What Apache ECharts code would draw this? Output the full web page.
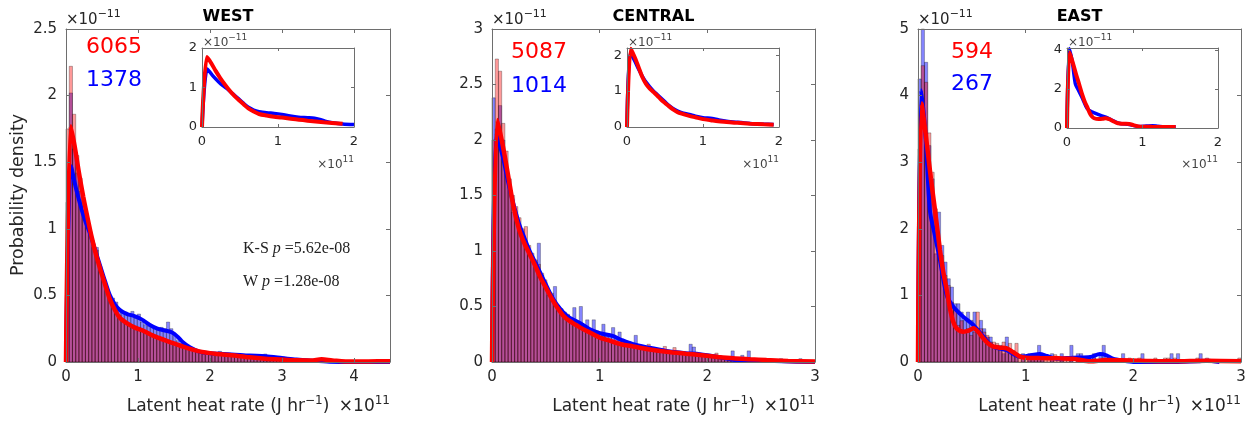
<!DOCTYPE html>
<html><head><meta charset="utf-8">
<script src="https://cdn.jsdelivr.net/npm/echarts@6/dist/echarts.min.js"></script>
<style>html,body{margin:0;padding:0;background:#fff}#c{width:1252px;height:421px}</style>
</head><body><div id="c"></div>
<script>
// ---------------- DATA ----------------
const panelNames = ['WEST', 'CENTRAL', 'EAST'];
const redCounts = ['6065', '5087', '594'];
const blueCounts = ['1378', '1014', '267'];
const xMax = [4.5, 3, 3];
const xTickLabels = [[0, 1, 2, 3, 4], [0, 1, 2, 3], [0, 1, 2, 3]];
const yMax = [2.5, 3, 5];
const yTickLabels = [[0, 0.5, 1, 1.5, 2, 2.5], [0, 0.5, 1, 1.5, 2, 2.5, 3], [0, 1, 2, 3, 4, 5]];
const binWidth = [0.045, 0.03, 0.03];
const insetXMax = [2, 2, 2];
const insetXTickLabels = [0, 1, 2];
const insetYMax = [2, 2.2, 4.1];
const insetYTickLabels = [[0, 1, 2], [0, 1, 2], [0, 2, 4]];
const insetLineEnd = [2, 2, 1.5];
const statTexts = ['5.62e-08', '1.28e-08'];

const westRedHist = [
  1.75, 2.22, 1.86, 1.55, 1.38, 1.22, 1.08, 0.97, 0.86, 0.84,
  0.72, 0.63, 0.55, 0.49, 0.44, 0.39, 0.35, 0.32, 0.30, 0.28,
  0.27, 0.26, 0.26, 0.24, 0.23, 0.22, 0.21, 0.20, 0.18, 0.17,
  0.17, 0.16, 0.15, 0.14, 0.13, 0.13, 0.12, 0.11, 0.10, 0.09,
  0.085, 0.08, 0.075, 0.07, 0.065, 0.06, 0.058, 0.055, 0.05, 0.05,
  0.048, 0.045, 0.042, 0.04, 0.038, 0.035, 0.033, 0.03, 0.03, 0.028,
  0.025, 0.025, 0.022, 0.02, 0.02, 0.018, 0.018, 0.015, 0.015, 0.015,
  0.012, 0.012, 0.012, 0.01, 0.015, 0.02, 0.018, 0.012, 0.01, 0.01,
  0.008, 0.008, 0.007, 0.007, 0.006, 0.006, 0.005, 0.005, 0.005, 0.004,
  0.004, 0.004, 0.004, 0.004, 0.004, 0.004, 0.004, 0.004, 0.004, 0.004
];
const westBlueHist = [
  1.2, 2.02, 1.6, 1.42, 1.28, 1.12, 1.02, 0.98, 0.88, 0.86,
  0.72, 0.64, 0.54, 0.5, 0.48, 0.45, 0.4, 0.38, 0.375, 0.36,
  0.38, 0.33, 0.36, 0.3, 0.28, 0.27, 0.26, 0.25, 0.24, 0.26,
  0.25, 0.3, 0.25, 0.2, 0.16, 0.14, 0.12, 0.1, 0.09, 0.08,
  0.09, 0.07, 0.06, 0.06, 0.07, 0.06, 0.05, 0.08, 0.05, 0.06,
  0.05, 0.04, 0.06, 0.04, 0.05, 0.03, 0.04, 0.03, 0.04, 0.03,
  0.05, 0.06, 0.03, 0.03, 0.02, 0.03, 0.02, 0.02, 0.01, 0.02,
  0.01, 0.015, 0.01, 0.01, 0.01, 0.01, 0.005, 0.01, 0.005, 0,
  0.005, 0, 0.005, 0, 0, 0.005, 0, 0, 0, 0,
  0, 0, 0, 0, 0, 0, 0, 0, 0, 0
];
const centralRedHist = [
  2.0, 2.73, 2.62, 2.15, 1.9, 1.65, 1.5, 1.4, 1.3, 1.2,
  1.22, 1.05, 0.98, 0.92, 0.88, 0.8, 0.74, 0.6, 0.62, 0.55,
  0.5, 0.47, 0.42, 0.43, 0.38, 0.36, 0.33, 0.3, 0.32, 0.28,
  0.27, 0.25, 0.24, 0.22, 0.23, 0.21, 0.2, 0.19, 0.18, 0.17,
  0.17, 0.16, 0.15, 0.15, 0.14, 0.13, 0.13, 0.12, 0.16, 0.11,
  0.11, 0.1, 0.1, 0.14, 0.09, 0.09, 0.13, 0.08, 0.08, 0.07,
  0.07, 0.07, 0.06, 0.06, 0.06, 0.05, 0.05, 0.05, 0.04, 0.08,
  0.04, 0.04, 0.035, 0.03, 0.03, 0.03, 0.025, 0.025, 0.02, 0.02,
  0.02, 0.02, 0.015, 0.015, 0.015, 0.015, 0.01, 0.01, 0.01, 0.01,
  0.01, 0.01, 0.008, 0.008, 0.008, 0.008, 0.005, 0.005, 0.005, 0.005
];
const centralBlueHist = [
  2.38, 2.1, 2.31, 2.0, 1.75, 1.55, 1.35, 1.3, 1.2, 1.12,
  1.05, 1.0, 0.95, 0.9, 1.07, 0.78, 0.72, 0.65, 0.6, 0.68,
  0.5, 0.48, 0.45, 0.42, 0.4, 0.49, 0.36, 0.5, 0.33, 0.38,
  0.3, 0.38, 0.28, 0.27, 0.34, 0.25, 0.24, 0.31, 0.22, 0.27,
  0.2, 0.19, 0.18, 0.17, 0.24, 0.15, 0.14, 0.13, 0.12, 0.12,
  0.11, 0.11, 0.1, 0.1, 0.09, 0.1, 0.09, 0.08, 0.09, 0.08,
  0.08, 0.16, 0.135, 0.07, 0.06, 0.06, 0.05, 0.05, 0.04, 0.04,
  0.04, 0.03, 0.03, 0.03, 0.1, 0.02, 0.02, 0.06, 0.02, 0.1,
  0.01, 0.01, 0.02, 0.01, 0.01, 0.03, 0.01, 0.01, 0.01, 0.03,
  0, 0.01, 0, 0.01, 0, 0.03, 0, 0, 0, 0
];
const eastRedHist = [
  3.2, 4.45, 4.2, 3.44, 2.85, 2.3, 1.75, 1.6, 1.3, 1.15,
  0.9, 0.8, 0.55, 0.62, 0.45, 0.5, 0.4, 0.45, 0.75, 0.5,
  0.45, 0.4, 0.3, 0.3, 0.28, 0.22, 0.3, 0.22, 0.28, 0.17,
  0.28, 0.11, 0.06, 0.06, 0.11, 0.06, 0.06, 0.06, 0.06, 0.11,
  0.06, 0.06, 0.11, 0.06, 0.06, 0.06, 0.06, 0.06, 0, 0.06,
  0, 0.06, 0, 0, 0.06, 0, 0, 0.06, 0.06, 0,
  0.06, 0, 0, 0, 0, 0.06, 0, 0, 0.06, 0,
  0, 0, 0, 0.06, 0, 0, 0.06, 0.06, 0, 0.06,
  0, 0, 0, 0, 0, 0, 0.06, 0, 0, 0.06,
  0, 0, 0, 0, 0, 0, 0, 0, 0, 0.06
];
const eastBlueHist = [
  4.25, 5.0, 4.5, 3.25, 2.75, 1.625, 2.25, 1.75, 1.5, 1.25,
  1.125, 0.875, 0.875, 0.75, 0.625, 0.75, 0.625, 0.75, 0.5, 0.625,
  0.5, 0.375, 0.375, 0.25, 0.25, 0.25, 0.125, 0.375, 0.125, 0.125,
  0.125, 0, 0.125, 0, 0.125, 0.125, 0.125, 0.25, 0.125, 0,
  0, 0.125, 0, 0, 0.125, 0, 0, 0.25, 0, 0.125,
  0.125, 0, 0, 0, 0.125, 0, 0.125, 0.25, 0, 0,
  0, 0, 0, 0.125, 0, 0, 0, 0, 0, 0.125,
  0, 0, 0, 0, 0, 0, 0, 0, 0.125, 0,
  0.125, 0, 0, 0, 0, 0, 0, 0.125, 0, 0,
  0, 0, 0, 0, 0, 0, 0, 0, 0, 0
];

const westRedKde = [[0,0],[0.065,1.77],[0.12,1.62],[0.18,1.42],[0.24,1.24],[0.3,1.08],[0.36,0.93],[0.42,0.8],[0.48,0.69],[0.55,0.57],[0.61,0.47],[0.68,0.39],[0.75,0.33],[0.85,0.29],[0.95,0.26],[1.05,0.24],[1.2,0.2],[1.39,0.16],[1.6,0.12],[1.85,0.08],[2.1,0.06],[2.3,0.05],[2.55,0.035],[2.77,0.025],[3.0,0.018],[3.2,0.013],[3.4,0.012],[3.55,0.02],[3.7,0.012],[3.97,0.003],[4.2,0.004],[4.5,0.006]];
const westBlueKde = [[0,0],[0.07,1.47],[0.14,1.3],[0.22,1.14],[0.28,1.04],[0.33,0.97],[0.4,0.85],[0.47,0.73],[0.54,0.61],[0.61,0.5],[0.68,0.43],[0.75,0.39],[0.85,0.36],[0.95,0.345],[1.05,0.32],[1.16,0.28],[1.27,0.25],[1.39,0.235],[1.48,0.22],[1.55,0.19],[1.62,0.15],[1.72,0.11],[1.85,0.078],[2.0,0.065],[2.3,0.057],[2.55,0.048],[2.77,0.043],[3.0,0.03],[3.2,0.018],[3.4,0.01],[3.66,0.002],[4.0,0.0],[4.5,0.0]];
const centralRedKde = [[0,0],[0.05,2.18],[0.1,1.95],[0.15,1.68],[0.2,1.4],[0.25,1.2],[0.3,1.07],[0.35,0.97],[0.4,0.87],[0.45,0.76],[0.5,0.67],[0.55,0.58],[0.6,0.5],[0.66,0.42],[0.72,0.37],[0.82,0.31],[0.9,0.27],[1.0,0.22],[1.1,0.19],[1.2,0.16],[1.31,0.14],[1.45,0.115],[1.62,0.093],[1.8,0.075],[1.93,0.063],[2.1,0.045],[2.24,0.033],[2.4,0.025],[2.55,0.018],[2.75,0.01],[3.0,0.005]];
const centralBlueKde = [[0,0],[0.04,2.06],[0.1,1.85],[0.15,1.62],[0.2,1.42],[0.25,1.25],[0.3,1.12],[0.35,1.0],[0.4,0.9],[0.45,0.8],[0.5,0.7],[0.55,0.6],[0.6,0.52],[0.66,0.45],[0.72,0.4],[0.82,0.35],[0.9,0.3],[1.0,0.26],[1.12,0.235],[1.2,0.2],[1.31,0.16],[1.45,0.13],[1.62,0.1],[1.8,0.08],[1.93,0.07],[2.1,0.045],[2.24,0.02],[2.4,0.015],[2.7,0.006],[3.0,0]];
const eastRedKde = [[0,0],[0.034,3.88],[0.08,3.3],[0.12,2.75],[0.158,2.28],[0.204,1.68],[0.235,1.35],[0.267,1.08],[0.3,0.78],[0.328,0.6],[0.36,0.5],[0.42,0.455],[0.47,0.47],[0.514,0.505],[0.56,0.45],[0.607,0.355],[0.65,0.28],[0.7,0.23],[0.76,0.215],[0.824,0.205],[0.88,0.15],[0.947,0.08],[1.0,0.065],[1.13,0.06],[1.3,0.055],[1.44,0.05],[1.6,0.01],[1.75,0.03],[1.9,0.025],[2.06,0.02],[2.37,0.01],[2.68,0.02],[3.0,0.01]];
const eastBlueKde = [[0,0],[0.03,4.08],[0.07,3.4],[0.11,2.28],[0.15,1.95],[0.204,1.53],[0.267,1.0],[0.328,0.83],[0.42,0.68],[0.514,0.555],[0.607,0.38],[0.7,0.23],[0.824,0.18],[0.947,0.08],[1.05,0.1],[1.13,0.12],[1.2,0.09],[1.29,0.05],[1.44,0.065],[1.6,0.075],[1.69,0.12],[1.75,0.1],[1.81,0.05],[1.9,0.02],[2.0,0.0],[2.37,0],[2.6,0.01],[2.68,0.02],[2.8,0]];

const redHists = [westRedHist, centralRedHist, eastRedHist];
const blueHists = [westBlueHist, centralBlueHist, eastBlueHist];
const redKdes = [westRedKde, centralRedKde, eastRedKde];
const blueKdes = [westBlueKde, centralBlueKde, eastBlueKde];

// ---------------- LAYOUT & STYLE ----------------
const mainGrids = [
  {left: 66, top: 29, width: 324, height: 333},
  {left: 492, top: 29, width: 323, height: 333},
  {left: 918, top: 29, width: 323, height: 333}
];
const insetGrids = [
  {left: 202, top: 48, width: 152, height: 79},
  {left: 627, top: 48, width: 152, height: 79},
  {left: 1067, top: 48, width: 151, height: 80}
];
const countPos = [[86, 47, 80], [511, 52, 86], [951, 52, 84]];
const FONT = 'DejaVu Sans';
const TXT = '#262626';
const AXC = '#6e6e6e';
const RED = '#ff0000', BLUE = '#0000ff';

const chart = echarts.init(document.getElementById('c'), null, {renderer: 'canvas'});

const grids = [], xAxes = [], yAxes = [], series = [], graphics = [];

function addAxes(gi, xmax, xt, ymax, yt, fs, tickLen, xMargin, yMargin) {
  const line = {show: true, onZero: false, lineStyle: {color: AXC, width: 1}};
  const tick = (vals) => ({show: true, inside: true, length: tickLen, customValues: vals, lineStyle: {color: AXC, width: 1}});
  const lab = (vals, m) => ({show: true, customValues: vals, fontSize: fs, fontFamily: FONT, color: TXT, margin: m, formatter: v => String(v)});
  const xi = xAxes.length;
  xAxes.push({gridIndex: gi, type: 'value', min: 0, max: xmax, position: 'bottom', axisLine: line, axisTick: tick(xt), axisLabel: lab(xt, xMargin), splitLine: {show: false}, z: 10});
  xAxes.push({gridIndex: gi, type: 'value', min: 0, max: xmax, position: 'top', axisLine: line, axisTick: tick(xt), axisLabel: {show: false}, splitLine: {show: false}, z: 10});
  const yi = yAxes.length;
  yAxes.push({gridIndex: gi, type: 'value', min: 0, max: ymax, position: 'left', axisLine: line, axisTick: tick(yt), axisLabel: lab(yt, yMargin), splitLine: {show: false}, z: 10});
  yAxes.push({gridIndex: gi, type: 'value', min: 0, max: ymax, position: 'right', axisLine: line, axisTick: tick(yt), axisLabel: {show: false}, splitLine: {show: false}, z: 10});
  return [xi, yi];
}

function renderBar(params, api) {
  const h = api.value(2);
  if (!(h > 0)) return null;
  const p0 = api.coord([api.value(0), h]);
  const p1 = api.coord([api.value(1), 0]);
  return {type: 'rect', shape: {x: p0[0], y: p0[1], width: p1[0] - p0[0], height: p1[1] - p0[1]}, style: api.style()};
}

function supText(base, sup, x, y, bs, ss, align, color) {
  return {
    type: 'text', x: x, y: y, z: 100,
    style: {
      text: '{b|' + base + '}{s|' + sup + '}',
      align: align, textAlign: align, verticalAlign: 'middle', textVerticalAlign: 'middle',
      rich: {
        b: {fontSize: bs, fontFamily: FONT, fill: color || TXT, color: color || TXT, lineHeight: bs + 4, verticalAlign: 'bottom'},
        s: {fontSize: ss, fontFamily: FONT, fill: color || TXT, color: color || TXT, lineHeight: ss, verticalAlign: 'top'}
      }
    }
  };
}

for (let i = 0; i < 3; i++) {
  // main panel
  const g = mainGrids[i];
  grids.push({left: g.left, top: g.top, width: g.width, height: g.height, containLabel: false});
  const gi = grids.length - 1;
  const [xi, yi] = addAxes(gi, xMax[i], xTickLabels[i], yMax[i], yTickLabels[i], 15, 4, 8, 9);
  const w = binWidth[i];
  const blueBars = blueHists[i].map((v, k) => [k * w, (k + 1) * w, v]);
  const redBars = redHists[i].map((v, k) => [k * w, (k + 1) * w, v]);
  series.push({type: 'custom', xAxisIndex: xi, yAxisIndex: yi, renderItem: renderBar, encode: {x: [0, 1], y: 2}, data: blueBars, z: 2,
    itemStyle: {color: 'rgba(0,0,255,0.48)', borderColor: 'rgba(0,0,0,0.55)', borderWidth: 0.5}, silent: true});
  series.push({type: 'custom', xAxisIndex: xi, yAxisIndex: yi, renderItem: renderBar, encode: {x: [0, 1], y: 2}, data: redBars, z: 3,
    itemStyle: {color: 'rgba(255,0,0,0.4)', borderColor: 'rgba(0,0,0,0.55)', borderWidth: 0.5}, silent: true});
  series.push({type: 'line', xAxisIndex: xi, yAxisIndex: yi, data: blueKdes[i], smooth: 0.3, showSymbol: false, symbol: 'none', z: 4,
    lineStyle: {color: BLUE, width: 4}, silent: true});
  series.push({type: 'line', xAxisIndex: xi, yAxisIndex: yi, data: redKdes[i], smooth: 0.3, showSymbol: false, symbol: 'none', z: 5,
    lineStyle: {color: RED, width: 4.5}, silent: true});

  // inset
  const ig = insetGrids[i];
  grids.push({left: ig.left, top: ig.top, width: ig.width, height: ig.height, containLabel: false});
  const igi = grids.length - 1;
  const [ixi, iyi] = addAxes(igi, insetXMax[i], insetXTickLabels, insetYMax[i], insetYTickLabels[i], 13, 3, 8, 5);
  const endX = insetLineEnd[i];
  series.push({type: 'line', xAxisIndex: ixi, yAxisIndex: iyi, data: blueKdes[i].filter(p => p[0] <= endX), smooth: 0.3, showSymbol: false, symbol: 'none', z: 7,
    lineStyle: {color: BLUE, width: 3.5}, silent: true});
  series.push({type: 'line', xAxisIndex: ixi, yAxisIndex: iyi, data: redKdes[i].filter(p => p[0] <= endX), smooth: 0.3, showSymbol: false, symbol: 'none', z: 8,
    lineStyle: {color: RED, width: 4}, silent: true});

  // texts
  const cx = g.left + g.width / 2;
  graphics.push({type: 'text', x: cx, y: 17, z: 100, style: {text: panelNames[i], fontSize: 16, fontWeight: 'bold', fontFamily: FONT, fill: '#000', align: 'center', textAlign: 'center', verticalAlign: 'middle', textVerticalAlign: 'middle'}});
  graphics.push(supText('×10', '−11', g.left, 18, 15, 11, 'left'));
  graphics.push({type: 'text', x: countPos[i][0], y: countPos[i][1], z: 100, style: {text: redCounts[i], fontSize: 22, fontFamily: FONT, fill: RED, align: 'left', textAlign: 'left', verticalAlign: 'middle', textVerticalAlign: 'middle'}});
  graphics.push({type: 'text', x: countPos[i][0], y: countPos[i][2], z: 100, style: {text: blueCounts[i], fontSize: 22, fontFamily: FONT, fill: BLUE, align: 'left', textAlign: 'left', verticalAlign: 'middle', textVerticalAlign: 'middle'}});
  // x label
  graphics.push({
    type: 'text', x: cx, y: 405, z: 100,
    style: {
      text: '{b|Latent heat rate (J hr}{s|−1}{b|)}',
      align: 'center', textAlign: 'center', verticalAlign: 'middle', textVerticalAlign: 'middle',
      rich: {
        b: {fontSize: 17, fontFamily: FONT, fill: TXT, color: TXT, lineHeight: 21, verticalAlign: 'bottom'},
        s: {fontSize: 12, fontFamily: FONT, fill: TXT, color: TXT, lineHeight: 12, verticalAlign: 'top'}
      }
    }
  });
  graphics.push(supText('×10', '11', g.left + g.width, 405, 17, 12, 'right'));
  // inset exponents
  graphics.push(supText('×10', '−11', ig.left + 1, 41, 12, 9, 'left', '#444'));
  graphics.push(supText('×10', '11', ig.left + ig.width, 163, 12, 9, 'right', '#444'));
}

// y-axis label
graphics.push({type: 'text', x: 18, y: 195, rotation: Math.PI / 2, z: 100,
  style: {text: 'Probability density', fontSize: 17.5, fontFamily: FONT, fill: TXT, align: 'center', textAlign: 'center', verticalAlign: 'middle', textVerticalAlign: 'middle'}});
// statistics text (West)
const serifRich = {r: {fontSize: 16, fontFamily: 'Liberation Serif', fill: '#222', color: '#222'}, i: {fontSize: 16, fontFamily: 'Liberation Serif', fontStyle: 'italic', fill: '#222', color: '#222'}};
graphics.push({type: 'text', x: 243, y: 249, z: 100,
  style: {text: '{r|K-S }{i|p}{r| =' + statTexts[0] + '}', align: 'left', textAlign: 'left', verticalAlign: 'middle', textVerticalAlign: 'middle', rich: serifRich}});
graphics.push({type: 'text', x: 243, y: 282, z: 100,
  style: {text: '{r|W }{i|p}{r| =' + statTexts[1] + '}', align: 'left', textAlign: 'left', verticalAlign: 'middle', textVerticalAlign: 'middle', rich: serifRich}});

chart.setOption({
  animation: false,
  backgroundColor: '#fff',
  grid: grids,
  xAxis: xAxes,
  yAxis: yAxes,
  series: series,
  graphic: {elements: graphics}
});
</script>
</body></html>
